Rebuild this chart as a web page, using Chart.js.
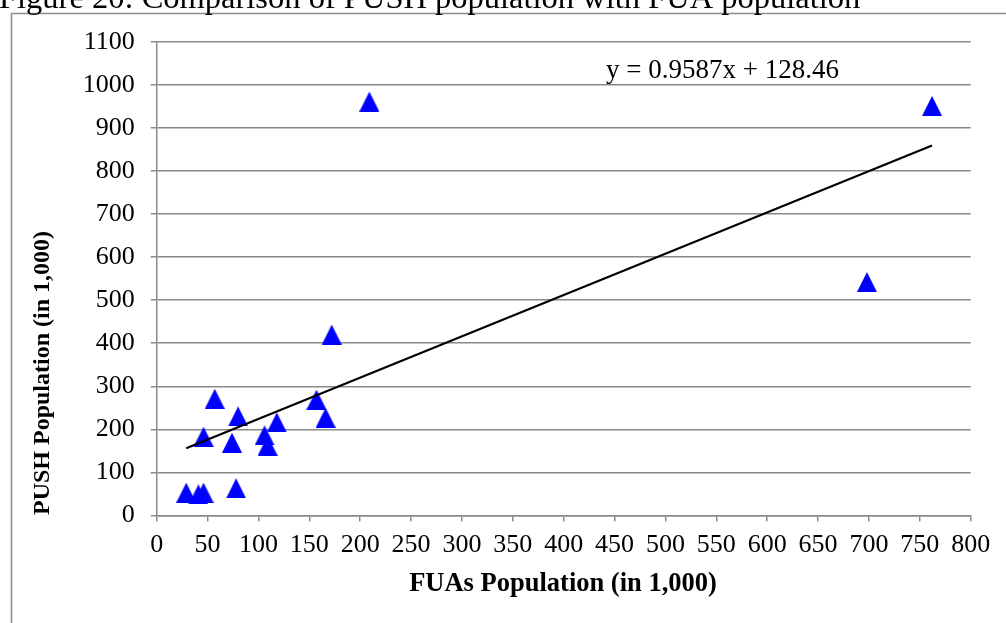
<!DOCTYPE html>
<html>
<head>
<meta charset="utf-8">
<script src="https://cdn.jsdelivr.net/npm/chart.js@4/dist/chart.umd.min.js"></script>
<style>
  html, body { margin: 0; padding: 0; background: #fff; }
  canvas { display: block; }
</style>
</head>
<body>
<canvas id="myChart" width="1006" height="623"></canvas>
<script>
// FUA population vs PUSH population, both in thousands
const fuaPop  = [29, 41, 46, 46, 57, 74, 78, 80, 106, 109, 118, 157, 166, 172, 209, 698, 762]
const pushPop = [53, 49, 53, 183, 271, 169, 63, 230, 186, 162, 216, 269, 227, 420, 961, 542, 951]

// linear trend as printed on the chart
const slope = 0.9587
const intercept = 128.46
const trendLabel = 'y = 0.9587x + 128.46'

const xTicks = [0, 800, 50]   // min, max, step
const yTicks = [0, 1100, 100]

const serif = '"Liberation Serif", "Times New Roman", serif'
const gridGray = '#8a8a8a'

// blue triangle marker, centred in its own box
function triangleMarker(w, h) {
    const c = document.createElement('canvas')
    c.width = w
    c.height = h
    const g = c.getContext('2d')
    g.fillStyle = '#0000ff'
    g.beginPath()
    g.moveTo(w / 2, 0)
    g.lineTo(w, h)
    g.lineTo(0, h)
    g.closePath()
    g.fill()
    return c
}

const points = fuaPop.map((x, i) => ({x: x, y: pushPop[i]}))
const xMin = Math.min(...fuaPop)
const xMax = Math.max(...fuaPop)
const trend = [
    {x: xMin, y: slope * xMin + intercept},
    {x: xMax, y: slope * xMax + intercept}
]

// frame, caption, axis titles and the equation
const decorations = {
    id: 'decorations',
    afterDraw(chart) {
        const ctx = chart.ctx
        ctx.save()

        ctx.strokeStyle = '#8c8c8c'
        ctx.lineWidth = 1.5
        ctx.beginPath()
        ctx.moveTo(11.5, 623)
        ctx.lineTo(11.5, 13.5)
        ctx.lineTo(1006, 13.5)
        ctx.stroke()

        ctx.fillStyle = '#000'
        ctx.textBaseline = 'alphabetic'
        ctx.textAlign = 'left'
        ctx.font = '32.5px ' + serif
        ctx.fillText('Figure 20: Comparison of PUSH population with FUA population', -1, 8)

        ctx.font = '27px ' + serif
        ctx.fillText(trendLabel, 606, 78)

        ctx.textAlign = 'center'
        ctx.textBaseline = 'middle'
        ctx.font = 'bold 26.5px ' + serif
        ctx.fillText('FUAs Population (in 1,000)', 563, 584)

        ctx.translate(43, 373)
        ctx.rotate(-Math.PI / 2)
        ctx.font = 'bold 24px ' + serif
        ctx.fillText('PUSH Population (in 1,000)', 0, 0)

        ctx.restore()
    }
}

const config = {
    type: 'scatter',
    data: {
        datasets: [{
            label: 'PUSH vs FUA',
            data: points,
            pointStyle: triangleMarker(20, 20),
            pointRadius: 10,
            order: 1
        }, {
            type: 'line',
            label: 'Linear trend',
            data: trend,
            borderColor: '#000',
            borderWidth: 2.2,
            pointRadius: 0,
            fill: false,
            order: 0
        }]
    },
    options: {
        responsive: false,
        animation: false,
        devicePixelRatio: 1,
        layout: {padding: {top: 41.7, right: 35.3, bottom: 0, left: 0}},
        plugins: {
            legend: {display: false},
            tooltip: {enabled: false}
        },
        scales: {
            x: {
                type: 'linear',
                min: xTicks[0],
                max: xTicks[1],
                afterFit: scale => { scale.height = 107.5 },
                ticks: {
                    stepSize: xTicks[2],
                    color: '#000',
                    padding: 8,
                    maxRotation: 0,
                    autoSkip: false,
                    callback: v => String(v),
                    font: {family: serif, size: 26}
                },
                grid: {
                    drawOnChartArea: false,
                    drawTicks: true,
                    tickLength: 6,
                    color: gridGray,
                    lineWidth: 1.5
                },
                border: {display: true, color: gridGray, width: 1.5}
            },
            y: {
                type: 'linear',
                min: yTicks[0],
                max: yTicks[1],
                afterFit: scale => { scale.width = 156.7 },
                ticks: {
                    stepSize: yTicks[2],
                    color: '#000',
                    padding: 16,
                    callback: v => String(v),
                    font: {family: serif, size: 26}
                },
                grid: {
                    drawOnChartArea: true,
                    drawTicks: true,
                    tickLength: 6,
                    color: gridGray,
                    lineWidth: 1.5
                },
                border: {display: true, color: gridGray, width: 1.5}
            }
        }
    },
    plugins: [decorations]
}

const myChart = new Chart(document.getElementById('myChart'), config)
</script>
</body>
</html>
